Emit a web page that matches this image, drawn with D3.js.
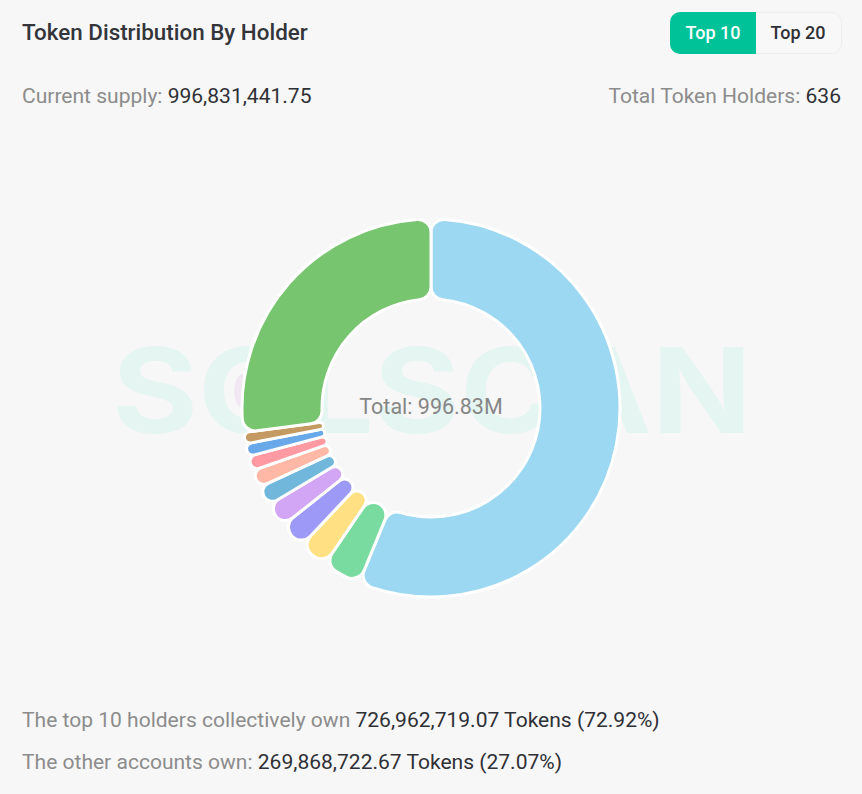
<!DOCTYPE html>
<html>
<head>
<meta charset="utf-8">
<script src="https://cdn.jsdelivr.net/npm/d3@7"></script>
<style>
  html, body { margin: 0; padding: 0; background: #f7f7f7; overflow: hidden; }
  text { font-family: Roboto, sans-serif; }
</style>
</head>
<body>
<svg id="svg" width="862" height="794"></svg>
<script>
// holder share of supply, in percent
const holders = ['#1', '#2', '#3', '#4', '#5', '#6', '#7', '#8', '#9', '#10', 'Others']
const shares = [56.2, 3.3, 2.5, 2.3, 2.1, 1.7, 1.5, 1.25, 1.08, 0.97, 27.07]
const colors = ['#9dd8f2', '#7adba0', '#ffe082', '#9d99f7', '#d3a5f5', '#71b7dc', '#ffb8a6', '#ff9aa2', '#6aa9e9', '#c49a62', '#78c570']

const svg = d3.select('#svg')
const cx = 431, cy = 408
const outerR = 189, innerR = 109

// watermark sits under the ring
svg.append('text')
    .text('SOLSCAN')
    .attr('x', 112).attr('y', 433)
    .attr('textLength', 640)
    .attr('lengthAdjust', 'spacingAndGlyphs')
    .style('font-family', 'Inter')
    .attr('font-size', 118)
    .attr('font-weight', 700)
    .attr('fill', '#e5f5f1')

// faint pink spot of the watermark logo
svg.append('ellipse')
    .attr('cx', 243).attr('cy', 391).attr('rx', 9).attr('ry', 17)
    .attr('fill', '#f1e7f3')

const pie = d3.pie().sort(null).value(d => d)
const arc = d3.arc().innerRadius(innerR).outerRadius(outerR).cornerRadius(13)

const ring = svg.append('g').attr('transform', `translate(${cx},${cy})`)
ring.selectAll('path')
    .data(pie(shares))
    .join('path')
    .attr('d', arc)
    .attr('fill', (d, i) => colors[i])
    .attr('stroke', '#fff')
    .attr('stroke-width', 3)
    .append('title').text((d, i) => holders[i])

ring.append('text')
    .text('Total: 996.83M')
    .attr('x', 0).attr('y', 6)
    .attr('text-anchor', 'middle')
    .attr('font-size', 21.5)
    .attr('fill', '#868686')

// header
svg.append('text').text('Token Distribution By Holder')
    .attr('x', 22).attr('y', 40)
    .attr('font-size', 22.4).attr('font-weight', 500).attr('fill', '#33353a')

// toggle
svg.append('rect')
    .attr('x', 670.5).attr('y', 12.5).attr('width', 171).attr('height', 41).attr('rx', 10)
    .attr('fill', '#f8f8f8').attr('stroke', '#eeeeee')
svg.append('path')
    .attr('d', 'M756 12H680a10 10 0 0 0 -10 10V44a10 10 0 0 0 10 10H756Z')
    .attr('fill', '#00c298')
svg.append('text').text('Top 10')
    .attr('x', 713).attr('y', 39).attr('text-anchor', 'middle')
    .attr('font-size', 18).attr('font-weight', 500).attr('fill', '#fff')
svg.append('text').text('Top 20')
    .attr('x', 798).attr('y', 39).attr('text-anchor', 'middle')
    .attr('font-size', 18).attr('font-weight', 500).attr('fill', '#2f3035')

let twoTone = (x, y, label, value, anchor) => {
    let t = svg.append('text')
        .attr('x', x).attr('y', y)
        .attr('text-anchor', anchor || 'start')
        .attr('font-size', 21.04)
    t.append('tspan').text(label).attr('fill', '#8c8c8c')
    t.append('tspan').text(value).attr('fill', '#2f3035')
}

twoTone(22, 103, 'Current supply: ', '996,831,441.75')
twoTone(841, 103, 'Total Token Holders: ', '636', 'end')
twoTone(22, 727, 'The top 10 holders collectively own ', '726,962,719.07 Tokens (72.92%)')
twoTone(22, 769, 'The other accounts own: ', '269,868,722.67 Tokens (27.07%)')
</script>
</body>
</html>
